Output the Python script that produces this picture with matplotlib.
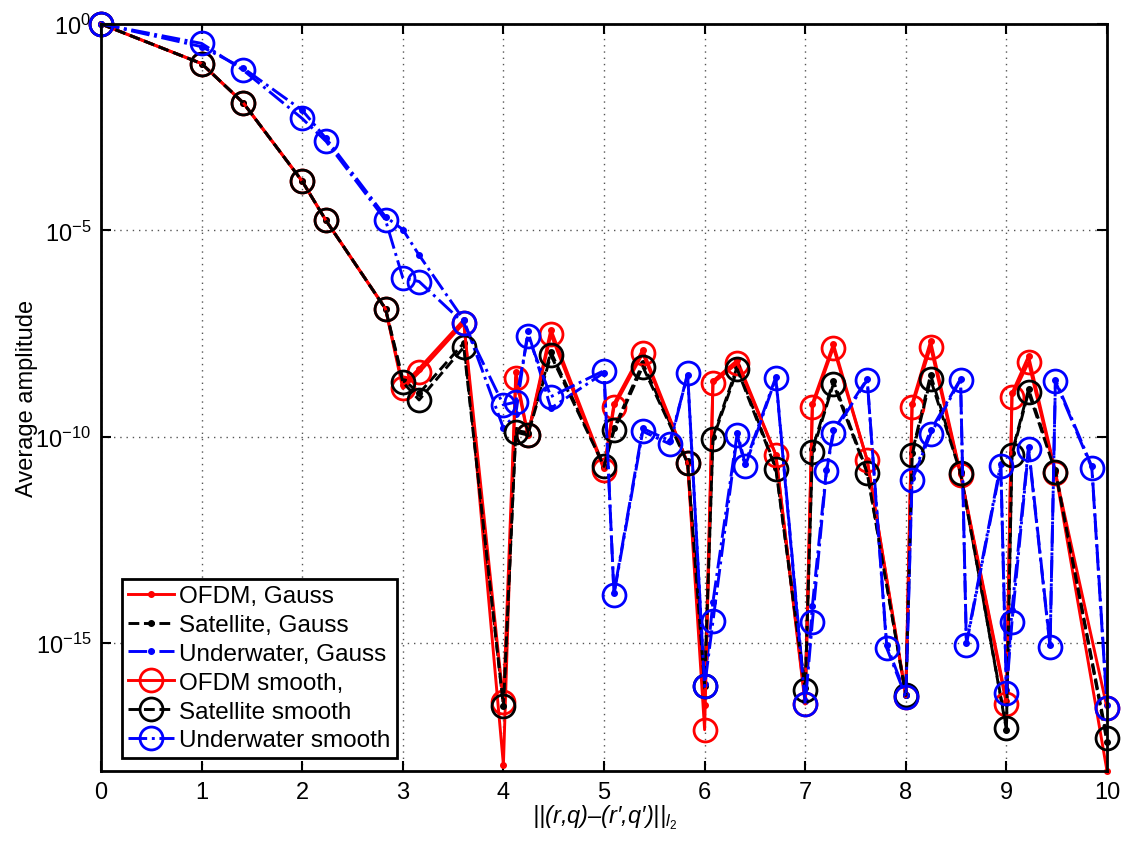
import matplotlib
matplotlib.use('Agg')
import matplotlib.pyplot as plt
import numpy as np

plt.rcParams['font.family'] = ['Liberation Sans', 'DejaVu Sans']
plt.rcParams['mathtext.fontset'] = 'custom'
plt.rcParams['mathtext.rm'] = 'Liberation Sans'
plt.rcParams['mathtext.it'] = 'Liberation Sans:italic'

# distances ||(r,q)-(r',q')||
dist = [0, 1, 1.414, 2, 2.236, 2.828, 3, 3.162, 3.606, 4, 4.123, 4.243, 4.472,
        5, 5.099, 5.385, 5.657, 5.831, 6, 6.083, 6.325, 6.403, 6.708, 7, 7.071,
        7.211, 7.280, 7.616, 7.810, 8, 8.062, 8.246, 8.544, 8.602, 8.944, 9,
        9.055, 9.220, 9.434, 9.487, 9.849, 10]

# log10 of average amplitude (None = not shown)
ofdm_gauss = [0, -0.96, -1.91, -3.81, -4.76, -6.9, -8.75, -8.35, -7.17, -17.95, -8.43, -9.96, -7.41,
              -10.75, -9.2, -7.9, None, -10.64, -16.5, -8.65, -8.15, None, -10.44, -16.4, -9.2,
              None, -7.76, -10.57, None, -16.25, -9.2, -7.69, -10.9, None, None, -16.4,
              -8.95, -8.05, None, -10.85, None, -18.1]
sat_gauss = [0, -0.96, -1.91, -3.81, -4.76, -6.9, -8.6, -8.95, -7.73, -16.53, -9.85, -9.9, -7.95,
             -10.7, -9.8, -8.22, None, -10.6, -16.05, -10.0, -8.3, None, -10.75, -16.1, -10.3,
             None, -8.65, -10.85, None, -16.25, -10.4, -8.5, -10.85, None, None, -17.1,
             -10.4, -8.85, None, -10.8, None, -17.4]
uw_gauss = [0, -0.55, -1.07, -2.09, -2.77, -4.67, -4.98, -5.6, -7.17, -9.79, -9.45, -7.45, -9.31,
            -8.45, -13.79, -9.8, -10.1, -8.5, -16.0, -14.0, -9.9, -10.65, -8.55, -16.4, -14.1,
            -10.8, -9.85, -8.6, -15.05, -16.25, -11.0, -9.85, -8.6, -15.0, -10.65, -16.15,
            -14.2, -10.25, -15.05, -8.62, -10.72, -16.5]
ofdm_smooth = [0, -0.96, -1.91, -3.81, -4.76, -6.9, -8.83, -8.44, -7.25, -16.43, -8.57, -9.96, -7.52,
               -10.8, -9.28, -7.98, None, -10.64, -17.1, -8.7, -8.22, None, -10.44, -16.48, -9.27,
               None, -7.84, -10.57, None, -16.3, -9.27, -7.82, -10.92, None, None, -16.48,
               -9.03, -8.2, None, -10.88, None, -16.57]
sat_smooth = [0, -0.96, -1.91, -3.81, -4.76, -6.9, -8.68, -9.11, -7.83, -16.53, -9.89, -9.96, -8.03,
              -10.72, -9.85, -8.3, None, -10.64, -16.05, -10.05, -8.37, None, -10.78, -16.15, -10.37,
              None, -8.72, -10.88, None, -16.27, -10.44, -8.61, -10.88, None, None, -17.06,
              -10.44, -8.92, None, -10.85, None, -17.3]
uw_smooth = [0, -0.47, -1.12, -2.29, -2.84, -4.75, -6.15, -6.24, -7.25, -9.23, -9.16, -7.55, -9.03,
             -8.40, -13.83, -9.87, -10.18, -8.46, -16.05, -14.47, -9.96, -10.72, -8.58, -16.48, -14.49,
             -10.84, -9.92, -8.62, -15.12, -16.3, -11.05, -9.94, -8.62, -15.04, -10.72, -16.21,
             -14.49, -10.3, -15.1, -8.66, -10.76, -16.57]

labels = ['OFDM, Gauss', 'Satellite, Gauss', 'Underwater, Gauss',
          'OFDM smooth,', 'Satellite smooth', 'Underwater smooth']
series = [ofdm_gauss, sat_gauss, uw_gauss, ofdm_smooth, sat_smooth, uw_smooth]
colors = ['red', 'black', 'blue', 'red', 'black', 'blue']
styles = ['-', '--', '-.', '-', '--', '-.']
markers = ['.', '.', '.', 'o', 'o', 'o']


def pick(vals):
    xs = [d for d, v in zip(dist, vals) if v is not None]
    ys = [10.0 ** v for v in vals if v is not None]
    return xs, ys


fig = plt.figure(figsize=(11.31, 8.53), dpi=100)
ax = fig.add_axes([0.0893, 0.095, 0.8895, 0.8757])

for vals, lab, c, ls, m in zip(series, labels, colors, styles, markers):
    xs, ys = pick(vals)
    if m == 'o':
        ax.plot(xs, ys, linestyle=ls, color=c, marker='o', markersize=16.5,
                markerfacecolor='none', markeredgewidth=2, linewidth=2.1,
                label=lab, clip_on=False)
    else:
        ax.plot(xs, ys, linestyle=ls, color=c, marker='.', markersize=8,
                linewidth=2.1, label=lab, clip_on=False)

ax.set_yscale('log')
ax.set_xlim(0, 10)
ax.set_ylim(10 ** -18.1, 1)
ax.set_xticks(range(0, 11))
ax.set_yticks([1e-15, 1e-10, 1e-5, 1e0])
ax.yaxis.set_minor_locator(matplotlib.ticker.NullLocator())
ax.tick_params(direction='in', top=True, right=True, length=7, width=1.5,
               labelsize=17, pad=7)
ax.grid(True, linestyle=(0, (1, 3.5)), color='#555555', linewidth=1)
for s in ax.spines.values():
    s.set_linewidth(2)

ax.set_ylabel('Average amplitude', fontsize=17, labelpad=-2)
ax.set_xlabel("||(r,q)\u2013(r\u2032,q\u2032)||$_{l_2}$", fontsize=17,
              fontstyle='italic', labelpad=0)

leg = ax.legend(loc='lower left', bbox_to_anchor=(0.021, 0.018), borderaxespad=0,
                fontsize=17.5, fancybox=False, framealpha=1, edgecolor='black',
                handlelength=1.9, labelspacing=0.28, handletextpad=0.2,
                borderpad=0.25)
leg.get_frame().set_linewidth(2)

plt.savefig('out.png', dpi=100)
